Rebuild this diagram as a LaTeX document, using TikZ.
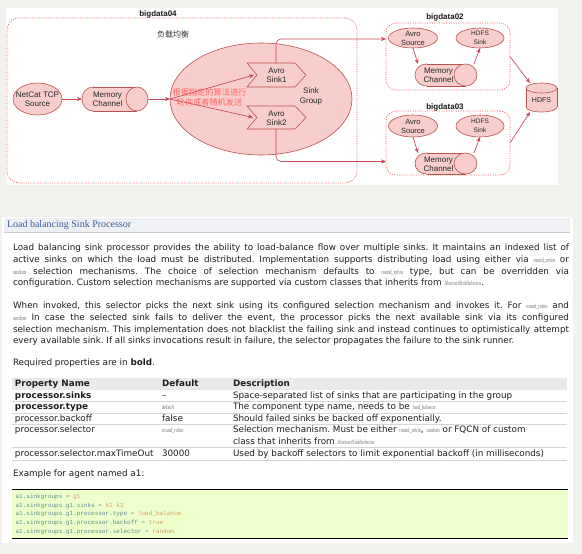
\documentclass[tikz,border=0pt]{standalone}
\usepackage{fontspec}
\usepackage{graphicx}
\setmainfont{Liberation Sans}
\newfontfamily\bodyf{DejaVu Sans}
\newfontfamily\cjk{Noto Sans CJK SC}
\newfontfamily\headf{Liberation Serif}
\newfontfamily\monof{Liberation Mono}
\newfontfamily\codef{Liberation Serif}
\usetikzlibrary{shapes.geometric,arrows.meta}
\definecolor{pageg}{HTML}{F2F1EE}
\definecolor{dred}{HTML}{B85450}
\definecolor{fred}{HTML}{F8CECC}
\definecolor{dotc}{HTML}{EA6B66}
\definecolor{arrc}{HTML}{C8485A}
\definecolor{redtxt}{HTML}{FF6666}
\definecolor{hdrbg}{HTML}{EEF0F3}
\definecolor{hdrln}{HTML}{C9CED6}
\definecolor{hdrtx}{HTML}{3A5C98}
\definecolor{thbg}{HTML}{EAEAEA}
\definecolor{rowln}{HTML}{D6D6D6}
\definecolor{codebg}{HTML}{EEFFCC}
\definecolor{codeln}{HTML}{B8D89A}
\definecolor{ckey}{HTML}{5E8E8E}
\definecolor{ceq}{HTML}{8A8A8A}
\definecolor{cval}{HTML}{CC9E5E}
\definecolor{cdc}{HTML}{707070}
\newcommand\bfnt{\bodyf\fontsize{8.8}{11}\selectfont\frenchspacing}
\newcommand\jl[1]{\makebox[556pt][s]{#1}}
\newcommand\cd[1]{\scalebox{0.68}[1]{\codef\fontsize{6.4}{7}\selectfont\textcolor{cdc}{#1}}}
\newcommand\kv[2]{\textcolor{ckey}{#1} \textcolor{ceq}{=} \textcolor{cval}{#2}}
% horizontal cylinder: x1 y1 x2 y2 r
\newcommand\hcyl[5]{%
  \path[shp] ({#1+#5},{(#2+#4)/2}) ellipse [x radius=#5, y radius={(#4-#2)/2}];
  \fill[fred] ({#1+#5},#2) rectangle ({#3-#5},#4);
  \draw[dred,line width=0.6pt] ({#1+#5},#2) -- ({#3-#5},#2) ({#1+#5},#4) -- ({#3-#5},#4);
  \path[shp] ({#3-#5},{(#2+#4)/2}) ellipse [x radius=#5, y radius={(#4-#2)/2}];
}
\begin{document}
\begin{tikzpicture}[x=1pt,y=-1pt,
  every node/.style={inner sep=0pt,outer sep=0pt},
  shp/.style={draw=dred,fill=fred,line width=0.6pt},
  dbox/.style={draw=dotc,line width=0.7pt,dash pattern=on 1.1pt off 1.3pt,rounded corners=12pt},
  conn/.style={draw=arrc,line width=0.65pt,-{Stealth[length=5pt,width=4.2pt]}},
  lab/.style={align=center,font=\fontsize{8}{9.3}\selectfont,text=black!85},
  smalllab/.style={align=center,font=\fontsize{6.5}{8.5}\selectfont,text=black!85},
  ttl/.style={font=\bfseries\fontsize{8}{9}\selectfont,text=black!90},
  body/.style={anchor=base west,font=\bfnt,text=black!88},
  codeln/.style={anchor=base west,font=\monof\fontsize{6}{7}\selectfont}
]
\useasboundingbox (0,0) rectangle (582,554);
\fill[pageg] (0,0) rectangle (582,554);
\fill[white] (6,8) rectangle (558,185);
\fill[white] (2,217) rectangle (573,543);

% ---------- diagram ----------
\node[dbox,minimum width=350pt,minimum height=165pt] (b04) at (182,100.5) {};
\node[ttl] (t04) at (158,14) {bigdata04};
\node[font=\cjk\fontsize{8}{9}\selectfont,text=black!80] (lb) at (173,34) {负载均衡};

\node[shp,ellipse,minimum width=49pt,minimum height=32pt] (nc) at (37.5,99) {};
\node[lab] (nct) at (37.5,99.5) {NetCat TCP\\Source};

\hcyl{82}{87}{148}{111}{11}
\node[minimum width=66pt,minimum height=24pt] (mc) at (115,99) {};
\node[lab] (mct) at (107.5,99.5) {Memory\\Channel};

\node[shp,ellipse,minimum width=182pt,minimum height=112pt] (sg) at (261,99) {};

\path[shp] (247,63) -- (295,63) -- (306,75) -- (295,87) -- (247,87) -- (257,75) -- cycle;
\path[shp] (247,106) -- (295,106) -- (306,117.5) -- (295,129) -- (247,129) -- (257,117.5) -- cycle;
\node[lab] (s1) at (276.5,75.5) {Avro\\Sink1};
\node[lab] (s2) at (276.5,118) {Avro\\Sink2};
\coordinate (s1in) at (254,75);
\coordinate (s2in) at (253,117.5);
\coordinate (s1top) at (276,63);
\coordinate (s2bot) at (276,129);
\node[lab] (sgt) at (311,96.5) {Sink\\Group};

% bigdata02
\node[dbox,rounded corners=10pt,minimum width=124pt,minimum height=67pt] (b02) at (448,56.5) {};
\node[ttl] (t02) at (445,17) {bigdata02};
\node[shp,ellipse,minimum width=49pt,minimum height=20pt] (as02) at (413,38) {};
\node[lab,font=\fontsize{7.5}{9}\selectfont] (as02t) at (413,38.5) {Avro\\Source};
\node[shp,ellipse,minimum width=48pt,minimum height=20pt] (hs02) at (480,38) {};
\node[smalllab] (hs02t) at (480,38) {HDFS\\Sink};
\hcyl{415}{64}{477}{86}{11.5}
\node[minimum width=62pt,minimum height=22pt] (mc02) at (446,75) {};
\node[lab] (mc02t) at (438.5,75.5) {Memory\\Channel};

% bigdata03
\node[dbox,rounded corners=10pt,minimum width=124pt,minimum height=64pt] (b03) at (448,143) {};
\node[ttl] (t03) at (445,107) {bigdata03};
\node[shp,ellipse,minimum width=49pt,minimum height=22pt] (as03) at (413,126) {};
\node[lab,font=\fontsize{7.5}{9}\selectfont] (as03t) at (413,126.5) {Avro\\Source};
\node[shp,ellipse,minimum width=48pt,minimum height=22pt] (hs03) at (480,126) {};
\node[smalllab] (hs03t) at (480,126) {HDFS\\Sink};
\hcyl{415}{153}{477}{174}{11.5}
\node[minimum width=62pt,minimum height=21pt] (mc03) at (446,163.5) {};
\node[lab] (mc03t) at (438.5,164) {Memory\\Channel};

% HDFS store (vertical cylinder)
\path[shp] (541.5,107) ellipse [x radius=15.5, y radius=5];
\fill[fred] (526,88) rectangle (557,107);
\draw[dred,line width=0.6pt] (526,88) -- (526,107) (557,88) -- (557,107);
\path[shp] (541.5,88) ellipse [x radius=15.5, y radius=5];
\node[minimum width=31pt,minimum height=29pt] (hdfs) at (541.5,97.5) {};
\node[font=\fontsize{7}{8}\selectfont,text=black!85] (hdfst) at (541.5,100) {HDFS};

% connectors
\draw[conn] (nc.east) -- (mc.west);
\draw[conn] (mc.east) -- (sg.west);
\draw[conn] (sg.west) -- (s1in);
\draw[conn] (sg.west) -- (s2in);
\node[align=center,font=\cjk\fontsize{8.2}{9.4}\selectfont,text=redtxt] (rt) at (209.5,97.5) {根据指定的算法进行\\轮询或者随机发送};
\coordinate (y02) at (0,39);
\coordinate (y03) at (0,161.5);
\draw[conn,rounded corners=5pt] (s1top) |- (b02.west |- y02);
\draw[conn,rounded corners=5pt] (s2bot) |- (b03.west |- y03);
\draw[conn] (as02.south) -- ([xshift=3pt]mc02.north west);
\draw[conn] ([xshift=-3pt]mc02.north east) -- (hs02.south);
\draw[conn] (as03.south) -- ([xshift=3pt]mc03.north west);
\draw[conn] ([xshift=-3pt]mc03.north east) -- (hs03.south);
\draw[conn] (b02.east) -- ([xshift=4pt]hdfs.north west);
\draw[conn] (b03.east) -- ([xshift=4pt]hdfs.south west);

% ---------- documentation ----------
\fill[hdrbg] (4,218) rectangle (570,232);
\draw[hdrln,line width=0.6pt] (4,232) -- (570,232);
\node[anchor=west,font=\headf\fontsize{10}{12}\selectfont,text=hdrtx] (hd) at (7,225.3) {Load balancing Sink Processor};

\node[body] (p1a) at (13,250.8) {\jl{Load balancing sink processor provides the ability to load-balance flow over multiple sinks. It maintains an indexed list of}};
\node[body] (p1b) at (13,262.5) {\jl{active sinks on which the load must be distributed. Implementation supports distributing load using either via \cd{round\_robin} or}};
\node[body] (p1c) at (13,274.2) {\jl{\cd{random} selection mechanisms. The choice of selection mechanism defaults to \cd{round\_robin} type, but can be overridden via}};
\node[body] (p1d) at (13,285.9) {configuration. Custom selection mechanisms are supported via custom classes that inherits from \cd{AbstractSinkSelector}.};

\node[body] (p2a) at (13,308.8) {\jl{When invoked, this selector picks the next sink using its configured selection mechanism and invokes it. For \cd{round\_robin} and}};
\node[body] (p2b) at (13,320.5) {\jl{\cd{random} In case the selected sink fails to deliver the event, the processor picks the next available sink via its configured}};
\node[body] (p2c) at (13,332.2) {\jl{selection mechanism. This implementation does not blacklist the failing sink and instead continues to optimistically attempt}};
\node[body] (p2d) at (13,343.9) {every available sink. If all sinks invocations result in failure, the selector propagates the failure to the sink runner.};

\node[body] (req) at (13,365.8) {Required properties are in \textbf{bold}.};

% table
\fill[thbg] (12,378) rectangle (567,390);
\foreach \yy in {401.5,413,424.5,447.5,460} \draw[rowln,line width=0.6pt] (12,\yy) -- (567,\yy);
\node[body,font=\bfnt\bfseries] (th1) at (15,386.8) {Property Name};
\node[body,font=\bfnt\bfseries] (th2) at (162,386.8) {Default};
\node[body,font=\bfnt\bfseries] (th3) at (233,386.8) {Description};

\node[body,font=\bfnt\bfseries] (r1a) at (15,398.3) {processor.sinks};
\node[body] (r1b) at (162,398.3) {–};
\node[body] (r1c) at (233,398.3) {Space-separated list of sinks that are participating in the group};

\node[body,font=\bfnt\bfseries] (r2a) at (15,409.8) {processor.type};
\node[body] (r2b) at (162,409.8) {\cd{default}};
\node[body] (r2c) at (233,409.8) {The component type name, needs to be \cd{load\_balance}};

\node[body] (r3a) at (15,421.3) {processor.backoff};
\node[body] (r3b) at (162,421.3) {false};
\node[body] (r3c) at (233,421.3) {Should failed sinks be backed off exponentially.};

\node[body] (r4a) at (15,432.8) {processor.selector};
\node[body] (r4b) at (162,432.8) {\cd{round\_robin}};
\node[body] (r4c) at (233,432.8) {Selection mechanism. Must be either \cd{round\_robin}, \cd{random} or FQCN of custom};
\node[body] (r4d) at (233,444.3) {class that inherits from \cd{AbstractSinkSelector}};

\node[body] (r5a) at (15,456.3) {processor.selector.maxTimeOut};
\node[body] (r5b) at (162,456.3) {30000};
\node[body] (r5c) at (233,456.3) {Used by backoff selectors to limit exponential backoff (in milliseconds)};

\node[body] (ex) at (13,476.8) {Example for agent named a1:};

% code block
\fill[codebg] (12,489) rectangle (568,538);
\draw[codeln,line width=0.6pt] (12,489) -- (568,489) (12,538) -- (568,538);
\node[codeln] (c1) at (15.6,498) {\kv{a1.sinkgroups}{g1}};
\node[codeln] (c2) at (15.6,507) {\kv{a1.sinkgroups.g1.sinks}{k1 k2}};
\node[codeln] (c3) at (15.6,515.5) {\kv{a1.sinkgroups.g1.processor.type}{load\_balance}};
\node[codeln] (c4) at (15.6,524.5) {\kv{a1.sinkgroups.g1.processor.backoff}{true}};
\node[codeln] (c5) at (15.6,533) {\kv{a1.sinkgroups.g1.processor.selector}{random}};
\end{tikzpicture}
\end{document}
